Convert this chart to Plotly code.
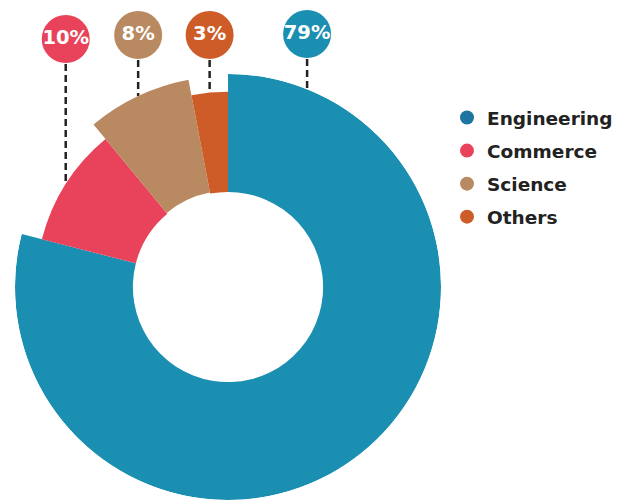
import math
import plotly.graph_objects as go

# ---- data ----
categories = ["Engineering", "Commerce", "Science", "Others"]
percent = [79, 10, 8, 3]

# ---- styles ----
slice_colors = ["#1a8fb1", "#e8435a", "#b98a62", "#cd5c28"]
legend_colors = ["#1f75a1", "#e8435a", "#b98a62", "#cd5c28"]
outer_radius = [215, 194, 213, 197]
inner_radius = [96, 96, 97, 96]
label_anchor_override = {0: 21.8}  # label line anchor angle (deg) for Engineering

W, H = 620, 500
CX, CY, RPX = 228, 287, 213  # polar centre (px) and circle radius (px)
RMAX = max(outer_radius)
scale = RPX / RMAX

fig = go.Figure()

# slices as polar bars (clockwise from 12 o'clock)
start = 0.0
mids = []
for i, (cat, p) in enumerate(zip(categories, percent)):
    width = p / sum(percent) * 360
    mid = start + width / 2
    mids.append(mid)
    fig.add_trace(go.Barpolar(
        theta=[mid], width=[width],
        r=[outer_radius[i] - inner_radius[i]], base=[inner_radius[i]],
        marker=dict(color=slice_colors[i], line=dict(width=0)),
        name=cat, showlegend=False, hoverinfo="name",
    ))
    start += width

# legend entries
for i, cat in enumerate(categories):
    fig.add_trace(go.Scatter(
        x=[None], y=[None], mode="markers", name=cat,
        marker=dict(size=14, color=legend_colors[i]),
        legendgroup=cat, xaxis="x", yaxis="y",
    ))

# label bubbles + dashed connectors
bubble_y = [34, 39, 35, 35]
for i, cat in enumerate(categories):
    ang = label_anchor_override.get(i, mids[i])
    a = math.radians(ang)
    ex = CX + outer_radius[i] * scale * math.sin(a)
    ey = CY - outer_radius[i] * scale * math.cos(a)
    by = bubble_y[i]
    fig.add_trace(go.Scatter(
        x=[ex, ex], y=[by + 25, ey], mode="lines",
        line=dict(color="#222222", width=2.5, dash="7px,4px"),
        showlegend=False, hoverinfo="skip", xaxis="x", yaxis="y",
    ))
    fig.add_trace(go.Scatter(
        x=[ex], y=[by], mode="markers+text",
        marker=dict(size=48, color=slice_colors[i], line=dict(width=0)),
        text=[f"{percent[i]}%"], textposition="middle center",
        textfont=dict(color="white", size=19.5, family="DejaVu Sans", weight="bold"),
        showlegend=False, hoverinfo="skip", xaxis="x", yaxis="y",
    ))

fig.update_layout(
    width=W, height=H,
    margin=dict(l=0, r=0, t=0, b=0),
    paper_bgcolor="white", plot_bgcolor="rgba(0,0,0,0)",
    polar=dict(
        domain=dict(x=[(CX - RPX) / W, (CX + RPX) / W],
                    y=[(H - CY - RPX) / H, (H - CY + RPX) / H]),
        bgcolor="rgba(0,0,0,0)",
        radialaxis=dict(visible=False, range=[0, RMAX]),
        angularaxis=dict(visible=False, direction="clockwise", rotation=90),
        bargap=0,
    ),
    xaxis=dict(domain=[0, 1], range=[0, W], visible=False, fixedrange=True),
    yaxis=dict(domain=[0, 1], range=[H, 0], visible=False, fixedrange=True),
    legend=dict(
        x=447 / W, xanchor="left", y=1 - 99 / H, yanchor="top",
        font=dict(family="DejaVu Sans", size=18.5, color="#222222", weight="bold"),
        tracegroupgap=6, bgcolor="rgba(0,0,0,0)",
    ),
    showlegend=True,
)

fig.write_html("out.html", config={"displayModeBar": False},
               post_script="document.body.style.margin='0';")
